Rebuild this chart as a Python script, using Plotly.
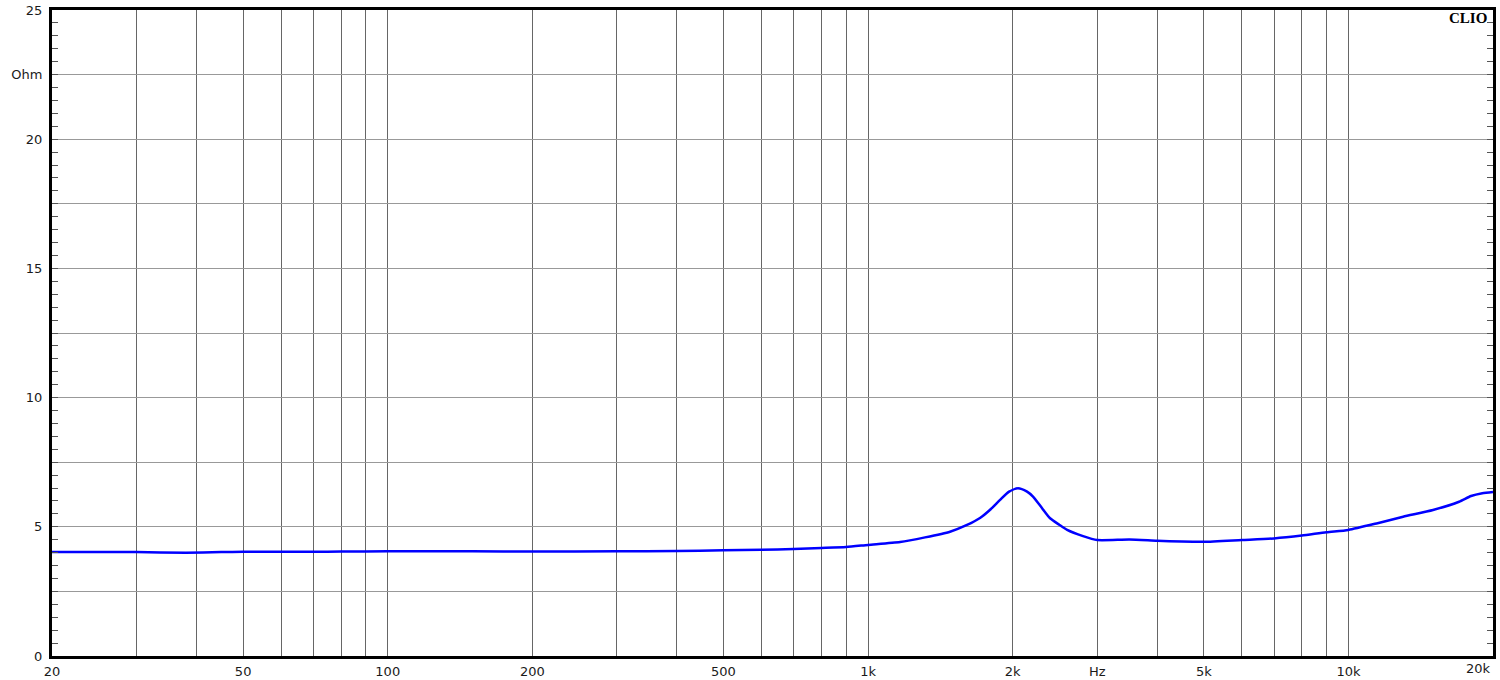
import math
import plotly.graph_objects as go

# Impedance curve (Hz, Ohm)
freq_hz = [20, 30, 38, 45, 50, 60, 70, 80, 100, 120, 150, 200, 300, 400, 500,
           600, 700, 800, 900, 1000, 1166, 1314, 1481, 1607, 1710, 1800, 1883,
           1966, 2051, 2143, 2205, 2303, 2393, 2500, 2597, 2803, 3000, 3500,
           4000, 4500, 5000, 6000, 7000, 8000, 9000, 10000, 11500, 13000, 15000,
           17000, 18000, 19000, 20000]
impedance_ohm = [4.02, 4.02, 4.00, 4.02, 4.03, 4.03, 4.03, 4.04, 4.05, 4.05, 4.05,
                 4.04, 4.05, 4.06, 4.09, 4.11, 4.14, 4.18, 4.22, 4.30, 4.41, 4.59,
                 4.81, 5.07, 5.34, 5.68, 6.04, 6.36, 6.49, 6.36, 6.17, 5.72, 5.33,
                 5.08, 4.88, 4.64, 4.49, 4.51, 4.46, 4.43, 4.42, 4.49, 4.55, 4.66,
                 4.79, 4.88, 5.14, 5.39, 5.65, 5.97, 6.19, 6.30, 6.35]

# Axis ticks
x_tick_vals = [20, 30, 40, 50, 60, 70, 80, 90, 100, 200, 300, 400, 500, 600, 700,
               800, 900, 1000, 2000, 3000, 4000, 5000, 6000, 7000, 8000, 9000,
               10000, 20000]
x_tick_text = ["20", "", "", "50", "", "", "", "", "100", "200", "", "", "500", "",
               "", "", "", "1k", "2k", "Hz", "", "5k", "", "", "", "", "10k", "20k"]
y_tick_vals = [0, 2.5, 5, 7.5, 10, 12.5, 15, 17.5, 20, 22.5, 25]
y_tick_text = ["0", "", "5", "", "10", "", "15", "", "20", "Ohm", "25"]

fig = go.Figure()
fig.add_trace(go.Scatter(x=freq_hz, y=impedance_ohm, mode="lines",
                         line=dict(color="#0000ff", width=2.5, shape="spline", smoothing=0.6),
                         hoverinfo="skip", showlegend=False))
# invisible traces so the tick-only overlay axes are drawn
fig.add_trace(go.Scatter(x=[20], y=[0], yaxis="y2", mode="markers",
                         marker=dict(opacity=0), showlegend=False, hoverinfo="skip"))
fig.add_trace(go.Scatter(x=[20], y=[0], yaxis="y3", mode="markers",
                         marker=dict(opacity=0), showlegend=False, hoverinfo="skip"))

font = dict(family="DejaVu Sans, Arial, sans-serif", size=13, color="#1a1a1a")

tick_axis = dict(range=[0, 25], overlaying="y", showgrid=False, zeroline=False,
                 showticklabels=False, tickmode="linear", tick0=0, dtick=0.5,
                 ticks="inside", ticklen=6, tickcolor="#555", tickwidth=1,
                 showline=False, automargin=False)

# last x label is placed as an annotation so it stays inside the page
last_label = x_tick_text[-1]
shown_x_text = x_tick_text[:-1] + [""]

fig.update_layout(
    width=1500, height=680,
    margin=dict(l=52, r=7, t=10, b=24, autoexpand=False),
    paper_bgcolor="white", plot_bgcolor="white",
    font=font,
    xaxis=dict(type="log", range=[1.30103, 4.30103], tickvals=x_tick_vals,
               ticktext=shown_x_text, showgrid=True, gridcolor="#666", gridwidth=1,
               showline=True, linecolor="black", linewidth=3, mirror=True,
               ticks="", tickfont=font, zeroline=False, ticklabelstandoff=1,
               automargin=False, ticklabeloverflow="allow"),
    yaxis=dict(range=[0, 25], tickvals=y_tick_vals, ticktext=y_tick_text,
               showgrid=True, gridcolor="#999", gridwidth=1,
               showline=True, linecolor="black", linewidth=3, mirror=True,
               ticks="", tickfont=font, zeroline=False, ticklabelstandoff=4,
               automargin=False, ticklabeloverflow="allow"),
    yaxis2=dict(side="right", **tick_axis),
    yaxis3=dict(side="left", **tick_axis),
    annotations=[
        dict(text="<b>CLIO</b>", x=1, y=1, xref="paper", yref="paper",
             xanchor="right", yanchor="top", xshift=-4, yshift=2,
             showarrow=False,
             font=dict(family="Liberation Serif, Times New Roman, serif",
                       size=15, color="black")),
        dict(text=last_label, x=math.log10(x_tick_vals[-1]), y=0, xref="x",
             yref="paper", xanchor="right", yanchor="top", yshift=-3,
             showarrow=False, font=font),
    ],
)

fig.write_html("out.html", config={"displayModeBar": False},
               post_script="document.body.style.margin='0';document.body.style.overflow='hidden';")
